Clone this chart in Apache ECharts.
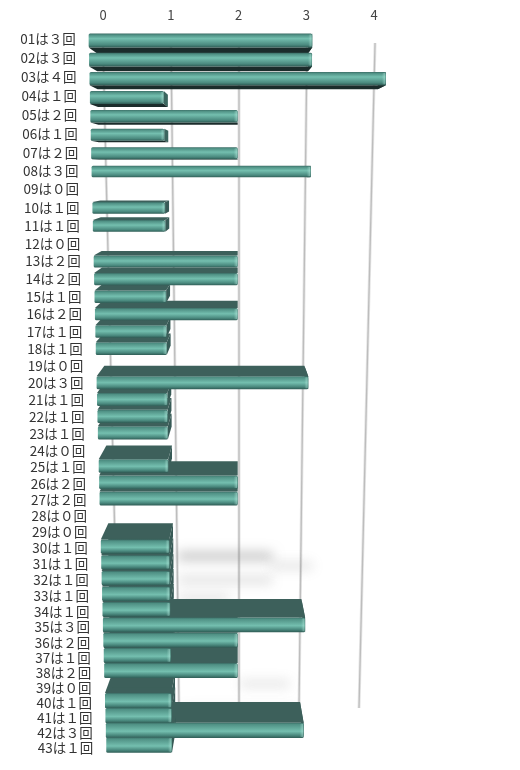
<!DOCTYPE html>
<html>
<head>
<meta charset="utf-8">
<style>html,body{margin:0;padding:0;background:#fff}#chart{width:520px;height:770px}</style>
<script src="https://cdn.jsdelivr.net/npm/echarts@6/dist/echarts.min.js"></script>
</head>
<body>
<div id="chart"></div>
<script>
// Number of rounds per entry, one row per player number
const rowLabels = ['01は３回','02は３回','03は４回','04は１回','05は２回','06は１回','07は２回','08は３回','09は０回','10は１回','11は１回','12は０回','13は２回','14は２回','15は１回','16は２回','17は１回','18は１回','19は０回','20は３回','21は１回','22は１回','23は１回','24は０回','25は１回','26は２回','27は２回','28は０回','29は０回','30は１回','31は１回','32は１回','33は１回','34は１回','35は３回','36は２回','37は１回','38は２回','39は０回','40は１回','41は１回','42は３回','43は１回'];
const counts = [3,3,4,1,2,1,2,3,0,1,1,0,2,2,1,2,1,1,0,3,1,1,1,0,1,2,2,0,0,1,1,1,1,1,3,2,1,2,0,1,1,3,1];
const tickValues = [0,1,2,3,4];

// Soft floor glints: from value, to value, row, strength
const glints = [
  [1.0,2.55,29.5,0.5],[2.5,3.2,30.1,0.22],[1.0,2.55,31,0.26],[1.0,1.85,32.2,0.24],[1.0,1.85,33.2,0.26],
  [2.0,2.85,37.7,0.2],[1.05,2.95,39.5,0.17]
];

const GRID = {left:103, width:271, top:39, height:709};
const LAST = rowLabels.length - 1;
const PIVOT = GRID.left + GRID.width / 2;
const CENTER_X = 237.7;

// Row position on the receding floor, from the axis position
function rowParam(py){ return (py - GRID.top) / (GRID.height / LAST); }
function warpY(py){ const t = rowParam(py); return GRID.top + 19.28 * t / (1 + 0.00338 * t); }
// Horizontal perspective of the bars, narrowing towards the far rows
function frontScale(t){ return 1.1 - 0.13 * t / LAST; }
function frontX(px, t){ return CENTER_X + (px - PIVOT) * frontScale(t); }
function barCenter(py){ const t = rowParam(py); return warpY(py) + 1.5 - 4.5 * t / LAST; }
function barHeight(cy){ const d = cy - 175; return d < 0 ? 11.5 - d * 0.018 : 11.5 + d * 0.007; }
function depthShift(cy){ const d = cy - 175; return d < 0 ? -d * 0.045 : d * (0.06 - 0.00004 * d); }
// Grid lines stand on the back wall and lean slightly inwards
function gridX(px, y){ return 239 + (px - PIVOT) * (68 - 8 * (y - 45) / 663) / 67.75; }

function frontFill(cy){
  const c = Math.max(0, Math.min(1, (cy - 40) / 500));
  const peak = 0.36 + 0.2 * c;
  return new echarts.graphic.LinearGradient(0,0,0,1,[
    {offset:0, color:'#3a6b64'},
    {offset:0.1, color:'#4f9084'},
    {offset:peak, color:'#74bfaf'},
    {offset:0.82, color:'#4a897e'},
    {offset:1, color:'#2f5c55'}
  ]);
}

function renderGrid(params, api){
  const px = api.coord([api.value(0), 0])[0];
  const y0 = 43, y1 = 708;
  return {type:'group', children:[
    {type:'line', shape:{x1:gridX(px,y0), y1:y0, x2:gridX(px,y1), y2:y1}, style:{stroke:'#e6e6e6', lineWidth:3}},
    {type:'line', shape:{x1:gridX(px,y0), y1:y0, x2:gridX(px,y1), y2:y1}, style:{stroke:'#bdbdbd', lineWidth:1.3}}
  ]};
}

// Only the blurred shadow of each shape lands on the canvas
function renderGlint(params, api){
  const a = api.coord([api.value(0), 0])[0], b = api.coord([api.value(1), 0])[0];
  const py = GRID.top + api.value(2) * GRID.height / LAST;
  const y = warpY(py), x1 = gridX(a, y), x2 = gridX(b, y), alpha = api.value(3);
  return {type:'rect', shape:{x:x1 - 1000, y:y - 4, width:x2 - x1, height:8, r:4},
    style:{fill:'#000', shadowBlur:12, shadowOffsetX:1000, shadowColor:'rgba(130,130,130,' + alpha + ')'}};
}

// Far face and end cap of a bar, drawn underneath every front
function renderDepth(params, api){
  const v = api.value(0);
  if (!v) return;
  const p0 = api.coord([0, api.value(1)]), p1 = api.coord([v, api.value(1)]);
  const t = rowParam(p0[1]), cy = barCenter(p0[1]), h = barHeight(cy);
  const dy = depthShift(cy), far = cy < 175 ? 1 : -1;
  const s = 0.945;
  const xl = frontX(p0[0], t), xr = frontX(p1[0], t);
  const bl = CENTER_X + (xl - CENTER_X) * s, br = CENTER_X + (xr - CENTER_X) * s;
  const by = cy + far * dy, bh = h * s;
  const edgeF = far > 0 ? cy + h / 2 : cy - h / 2;
  const edgeB = far > 0 ? by + bh / 2 : by - bh / 2;
  return {type:'group', children:[
    {type:'polygon', shape:{points:[[xr, cy - h/2],[br, by - bh/2],[br, by + bh/2],[xr, cy + h/2]]},
      style:{fill:far > 0 ? '#3c665f' : '#375a56'}},
    {type:'polygon', shape:{points:[[xl, edgeF],[xr, edgeF],[br, edgeB],[bl, edgeB]]},
      style:{fill:far > 0 ? '#1b2c2b' : '#3d605b'}}
  ]};
}

function renderFront(params, api){
  const v = api.value(0);
  if (!v) return;
  const p0 = api.coord([0, api.value(1)]), p1 = api.coord([v, api.value(1)]);
  const t = rowParam(p0[1]), cy = barCenter(p0[1]), h = barHeight(cy);
  const xl = frontX(p0[0], t), xr = frontX(p1[0], t);
  return {type:'group', children:[
    {type:'rect', shape:{x:xl, y:cy - h/2, width:xr - xl, height:h, r:1.5}, style:{fill:frontFill(cy)}},
    {type:'rect', shape:{x:xr - 4, y:cy - h/2 + 1, width:4, height:h - 2, r:1.5},
      style:{fill:new echarts.graphic.LinearGradient(0,0,1,0,[
        {offset:0, color:'rgba(190,240,228,0)'},{offset:0.7, color:'rgba(190,240,228,0.4)'},{offset:1, color:'rgba(60,110,100,0.5)'}
      ])}}
  ]};
}

function renderLabel(params, api){
  const p0 = api.coord([0, api.value(1)]);
  const t = rowParam(p0[1]);
  return {type:'text', x:frontX(p0[0], t) - 68.5, y:warpY(p0[1]),
    style:{text:rowLabels[params.dataIndex], fill:'#333', font:'13.5px "Noto Sans CJK JP"', textVerticalAlign:'middle', textAlign:'left'}};
}

const rows = counts.map((c, i) => [c, rowLabels[i]]);
const custom = (renderItem, data, z) => ({type:'custom', renderItem, data, z, clip:false, silent:true, encode:{x:0, y:1}});

const chart = echarts.init(document.getElementById('chart'));
chart.setOption({
  animation:false,
  backgroundColor:'#fff',
  grid:GRID,
  xAxis:{type:'value', position:'top', min:0, max:4, interval:1,
    axisLine:{show:false}, axisTick:{show:false}, splitLine:{show:false},
    axisLabel:{margin:17, color:'#444', fontSize:13, fontFamily:'"Noto Sans CJK JP"'}},
  yAxis:{type:'category', inverse:true, boundaryGap:false, data:rowLabels, show:false},
  series:[
    {type:'custom', renderItem:renderGrid, data:tickValues.map(v => [v]), z:1, clip:false, silent:true, encode:{x:0}},
    {type:'custom', renderItem:renderGlint, data:glints, z:2, clip:false, silent:true, encode:{x:0}},
    custom(renderDepth, rows, 3),
    custom(renderFront, rows, 4),
    custom(renderLabel, rows, 5)
  ]
});
</script>
</body>
</html>
